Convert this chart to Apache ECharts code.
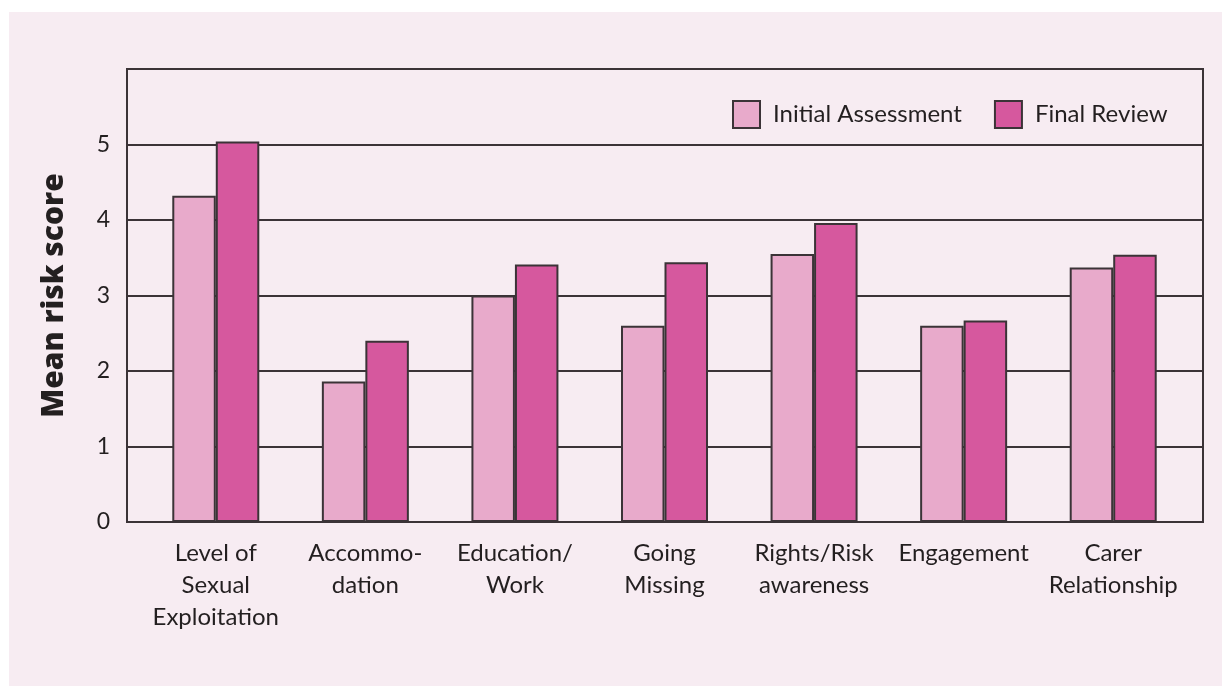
<!DOCTYPE html>
<html>
<head>
<meta charset="utf-8">
<style>
  html, body { margin: 0; padding: 0; background: #ffffff; }
  #chart { width: 1222px; height: 686px; }
</style>
<script src="https://cdn.jsdelivr.net/npm/echarts@6/dist/echarts.min.js"></script>
</head>
<body>
<div id="chart"></div>
<script>
// Domains assessed, with line breaks as printed under the axis
const categories = [
  'Level of\nSexual\nExploitation',
  'Accommo-\ndation',
  'Education/\nWork',
  'Going\nMissing',
  'Rights/Risk\nawareness',
  'Engagement',
  'Carer\nRelationship'
];
// Mean risk scores per domain
const initialAssessment = [4.32, 1.86, 3.00, 2.60, 3.55, 2.60, 3.37];
const finalReview       = [5.04, 2.40, 3.41, 3.44, 3.96, 2.67, 3.54];
const seriesNames = ['Initial Assessment', 'Final Review'];
const yTicks = [0, 1, 2, 3, 4, 5, 6];

const ink = '#3b3337';
const text = '#231f20';
const font = 'Lato, "Open Sans", sans-serif';

const yMin = yTicks[0], yMax = yTicks[yTicks.length - 1];

const chart = echarts.init(document.getElementById('chart'));
chart.setOption({
  backgroundColor: '#ffffff',
  animation: false,
  graphic: [{
    type: 'rect',
    left: 9, top: 12,
    shape: { width: 1213, height: 674 },
    style: { fill: '#f7ecf2' },
    z: -10
  }],
  textStyle: { fontFamily: font, color: text },
  legend: {
    left: 727, top: 95,
    icon: 'rect',
    itemWidth: 27, itemHeight: 27,
    itemGap: 32,
    itemStyle: { borderColor: ink, borderWidth: 2 },
    textStyle: { fontSize: 24, color: text, fontFamily: font, padding: [0, 0, 0, 8] },
    data: seriesNames
  },
  grid: [
    // framed plot box with value axis and gridlines
    {
      left: 127, top: 69, right: 19, bottom: 164,
      show: true,
      borderColor: ink, borderWidth: 2,
      backgroundColor: 'transparent'
    },
    // inset band for the grouped bars
    { left: 141, top: 69, right: 34, bottom: 164 }
  ],
  xAxis: [
    {
      gridIndex: 0, type: 'category', data: categories,
      axisLine: { show: false }, axisTick: { show: false }, axisLabel: { show: false }
    },
    {
      gridIndex: 1, type: 'category', data: categories,
      axisLine: { show: false },
      axisTick: { show: false },
      axisLabel: {
        interval: 0, fontSize: 24, lineHeight: 32, margin: 15,
        color: text, fontFamily: font
      }
    }
  ],
  yAxis: [
    {
      gridIndex: 0,
      type: 'value',
      min: yMin, max: yMax, interval: 1,
      name: 'Mean risk score',
      nameLocation: 'middle',
      nameGap: 58,
      nameTextStyle: { fontSize: 30, fontWeight: 800, color: text, fontFamily: '"Open Sans", Lato, sans-serif' },
      axisLine: { show: true, lineStyle: { color: ink, width: 2 } },
      axisTick: { show: false },
      axisLabel: {
        fontSize: 23, margin: 17, color: text, fontFamily: font,
        formatter: v => (v === yMax ? '' : String(v))
      },
      splitLine: { lineStyle: { color: ink, width: 2 } }
    },
    {
      gridIndex: 1,
      type: 'value',
      min: yMin, max: yMax, interval: 1,
      show: false
    }
  ],
  series: [
    {
      name: seriesNames[0], type: 'bar', data: initialAssessment,
      xAxisIndex: 1, yAxisIndex: 1,
      barWidth: 43.5, barGap: '0%',
      itemStyle: { color: '#e8aacb', borderColor: ink, borderWidth: 2 }
    },
    {
      name: seriesNames[1], type: 'bar', data: finalReview,
      xAxisIndex: 1, yAxisIndex: 1,
      barWidth: 43.5, barGap: '0%',
      itemStyle: { color: '#d6589e', borderColor: ink, borderWidth: 2 }
    }
  ]
});
</script>
</body>
</html>
